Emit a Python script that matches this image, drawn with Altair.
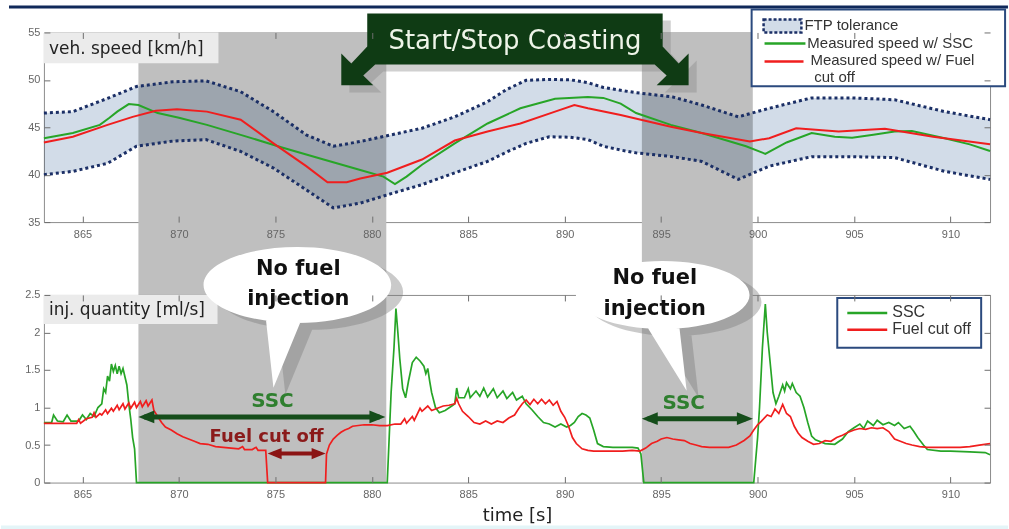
import altair as alt
import pandas as pd

# ---------------- values ----------------
time_ticks = [865, 870, 875, 880, 885, 890, 895, 900, 905, 910]
speed_ticks = [35, 40, 45, 50, 55]
inj_ticks = [0, 0.5, 1, 1.5, 2, 2.5]

# start/stop coasting windows [s]
coast_start = [867.9, 894.0]
coast_end = [880.75, 899.75]

# FTP tolerance band [km/h]
band_t = [863.0, 864.5, 866.3, 867.8, 869.7, 871.4, 873.2, 874.9, 876.6, 878.0,
          879.4, 881.0, 882.6, 884.3, 886.0, 887.0, 888.0, 889.2, 890.3, 891.2,
          892.0, 892.9, 893.7, 895.6, 897.1, 899.0, 900.6, 902.8, 904.9, 907.1,
          909.7, 912.05]
band_lo = [40.0, 40.35, 41.2, 43.0, 43.55, 43.7, 42.45, 40.7, 38.4, 36.5,
           37.0, 38.0, 38.95, 40.2, 41.4, 42.4, 43.3, 44.0, 43.95, 43.7,
           43.0, 42.6, 42.3, 41.9, 41.4, 39.5, 40.9, 41.9, 41.9, 41.8,
           40.35, 39.5]
band_hi = [46.5, 46.65, 48.05, 49.3, 49.8, 49.9, 48.75, 46.65, 44.2, 43.0,
           43.5, 44.2, 44.9, 46.1, 47.7, 49.0, 49.95, 50.05, 50.0, 49.7,
           49.2, 48.9, 48.65, 48.2, 47.35, 46.1, 47.0, 48.1, 48.1, 47.9,
           46.65, 45.8]

# measured speed w/ SSC
speed_ssc_t = [863.0, 864.5, 865.9, 866.4, 866.8, 867.4, 867.9, 868.9, 870.0, 871.45,
               873.2, 875.3, 877.5, 879.4, 880.6, 881.2, 881.8, 882.6, 884.3, 886.0,
               887.7, 889.5, 891.2, 892.0, 892.9, 893.7, 895.5, 897.1, 899.4, 900.4,
               901.5, 902.8, 904.0, 904.9, 906.0, 907.1, 908.0, 909.7, 911.0, 912.05]
speed_ssc_v = [43.85, 44.4, 45.25, 46.0, 46.65, 47.45, 47.35, 46.5, 46.0, 45.25,
               44.2, 42.9, 41.6, 40.5, 39.8, 39.0, 39.8, 41.05, 43.3, 45.4,
               47.0, 48.0, 48.2, 48.1, 47.5, 46.5, 45.25, 44.4, 43.0, 42.2,
               43.4, 44.4, 44.0, 43.9, 44.2, 44.55, 44.6, 43.85, 43.2, 42.5]

# measured speed w/ fuel cut off
speed_fco_t = [863.0, 864.5, 866.3, 867.6, 868.8, 869.9, 871.45, 873.2, 874.9, 876.6,
               877.7, 878.7, 879.4, 880.8, 882.6, 884.3, 886.0, 887.7, 889.5, 890.5,
               891.2, 892.9, 895.5, 897.1, 899.6, 900.6, 902.0, 904.2, 906.6, 909.1,
               912.05]
speed_fco_v = [43.4, 44.0, 45.25, 46.1, 46.75, 46.9, 46.65, 45.8, 43.3, 40.9,
               39.2, 39.2, 39.6, 40.2, 41.6, 43.6, 44.55, 45.4, 46.65, 47.35,
               47.0, 46.3, 45.05, 44.4, 43.5, 43.85, 44.9, 44.55, 44.85, 44.0,
               43.2]

# injection quantity [ml/s], SSC
inj_ssc = [(863.0, 0.80), (863.4, 0.80), (863.5, 0.90), (863.7, 0.82), (864.0, 0.81),
           (864.2, 0.90), (864.4, 0.82), (864.8, 0.82), (865.0, 0.90), (865.2, 0.84),
           (865.4, 0.92), (865.6, 0.88), (865.8, 1.00), (866.0, 1.05), (866.1, 1.25),
           (866.2, 1.20), (866.3, 1.42), (866.4, 1.35), (866.5, 1.58), (866.6, 1.48),
           (866.7, 1.56), (866.8, 1.45), (866.9, 1.55), (867.0, 1.45), (867.1, 1.52),
           (867.3, 1.30), (867.4, 1.05), (867.5, 0.85), (867.6, 0.60), (867.7, 0.45),
           (867.8, 0.0), (880.8, 0.0), (881.0, 1.2), (881.15, 1.8), (881.25, 2.32),
           (881.35, 2.0), (881.45, 1.65), (881.6, 1.25), (881.75, 1.13), (881.9, 1.35),
           (882.1, 1.6), (882.3, 1.67), (882.5, 1.62), (882.7, 1.55), (882.8, 1.45),
           (882.9, 1.52), (883.0, 1.35), (883.1, 1.20), (883.3, 1.00), (883.5, 0.93),
           (883.8, 0.96), (884.2, 1.03), (884.3, 1.05), (884.4, 1.26), (884.5, 1.13),
           (884.8, 1.13), (885.0, 1.25), (885.1, 1.13), (885.4, 1.22), (885.6, 1.15),
           (885.8, 1.26), (886.0, 1.14), (886.3, 1.25), (886.5, 1.13), (886.8, 1.22),
           (887.0, 1.12), (887.3, 1.20), (887.5, 1.10), (887.8, 1.15), (888.0, 1.05),
           (888.3, 0.97), (888.6, 0.88), (888.9, 0.80), (889.2, 0.78), (889.5, 0.74),
           (889.8, 0.78), (890.1, 0.74), (890.3, 0.76), (890.5, 0.80), (890.7, 0.88),
           (890.9, 0.92), (891.1, 0.90), (891.3, 0.86), (891.5, 0.70), (891.7, 0.52),
           (892.0, 0.48), (892.5, 0.47), (893.0, 0.47), (893.5, 0.47), (893.8, 0.46),
           (893.95, 0.38), (894.1, 0.0), (899.8, 0.0), (900.0, 0.6), (900.1, 1.0),
           (900.25, 1.8), (900.4, 2.38), (900.5, 2.0), (900.65, 1.6), (900.8, 1.2),
           (900.95, 1.05), (901.1, 1.15), (901.3, 1.30), (901.4, 1.22), (901.5, 1.33),
           (901.7, 1.25), (901.8, 1.32), (902.0, 1.20), (902.2, 1.15), (902.4, 1.00),
           (902.6, 0.80), (902.8, 0.62), (903.0, 0.57), (903.5, 0.52), (904.0, 0.51),
           (904.4, 0.58), (904.7, 0.68), (905.0, 0.73), (905.3, 0.78), (905.5, 0.72),
           (905.7, 0.82), (906.0, 0.76), (906.2, 0.83), (906.5, 0.77), (906.8, 0.80),
           (907.1, 0.76), (907.3, 0.80), (907.6, 0.72), (907.9, 0.75), (908.1, 0.68),
           (908.3, 0.60), (908.6, 0.50), (908.8, 0.44), (909.5, 0.42), (910.0, 0.42),
           (911.0, 0.41), (911.8, 0.40), (912.05, 0.37)]

# injection quantity [ml/s], fuel cut off
inj_fco = [(863.0, 0.79), (864.7, 0.79), (864.8, 0.84), (864.9, 0.79), (865.2, 0.85),
           (865.5, 0.87), (865.6, 0.93), (865.7, 0.87), (865.9, 0.92), (866.0, 0.90),
           (866.2, 0.97), (866.3, 0.92), (866.5, 0.99), (866.6, 0.95), (866.8, 1.03),
           (866.9, 0.97), (867.1, 1.05), (867.2, 0.98), (867.4, 1.06), (867.5, 0.99),
           (867.7, 1.07), (867.8, 1.00), (868.0, 1.08), (868.1, 1.01), (868.3, 1.09),
           (868.4, 1.02), (868.6, 1.10), (868.7, 0.96), (868.9, 0.88), (869.1, 0.80),
           (869.3, 0.74), (869.6, 0.70), (869.9, 0.65), (870.2, 0.61), (870.5, 0.58),
           (870.8, 0.55), (871.1, 0.52), (871.5, 0.51), (871.9, 0.48), (872.3, 0.47),
           (872.7, 0.46), (873.1, 0.45), (873.3, 0.48), (873.4, 0.44), (873.8, 0.44),
           (874.0, 0.47), (874.1, 0.43), (874.5, 0.43), (874.6, 0.0), (877.6, 0.0),
           (877.65, 0.38), (877.8, 0.50), (878.0, 0.58), (878.2, 0.63), (878.4, 0.67),
           (878.6, 0.70), (878.8, 0.72), (879.0, 0.75), (879.3, 0.76), (879.6, 0.77),
           (880.0, 0.77), (880.4, 0.76), (880.8, 0.76), (881.2, 0.78), (881.5, 0.78),
           (881.7, 0.85), (881.8, 0.79), (882.1, 0.88), (882.2, 0.83), (882.5, 0.99),
           (882.6, 0.95), (882.9, 1.02), (883.1, 0.96), (883.4, 0.99), (883.7, 1.02),
           (884.0, 1.03), (884.3, 1.05), (884.4, 1.12), (884.5, 1.05), (884.7, 0.95),
           (885.0, 0.88), (885.3, 0.80), (885.6, 0.78), (885.9, 0.82), (886.2, 0.78),
           (886.5, 0.82), (886.8, 0.80), (887.1, 0.86), (887.4, 0.90), (887.6, 0.98),
           (887.8, 1.05), (888.0, 1.10), (888.2, 1.04), (888.4, 1.11), (888.6, 1.05),
           (888.8, 1.11), (889.0, 1.05), (889.2, 1.10), (889.4, 1.03), (889.6, 1.08),
           (889.8, 0.95), (890.0, 0.87), (890.2, 0.75), (890.4, 0.60), (890.6, 0.52),
           (890.9, 0.45), (891.2, 0.43), (891.5, 0.42), (892.0, 0.42), (892.5, 0.42),
           (893.0, 0.42), (893.5, 0.43), (893.9, 0.42), (894.2, 0.46), (894.5, 0.52),
           (894.8, 0.55), (895.0, 0.58), (895.3, 0.60), (895.6, 0.58), (895.9, 0.57),
           (896.2, 0.56), (896.5, 0.52), (896.8, 0.50), (897.1, 0.48), (897.5, 0.47),
           (898.0, 0.47), (898.5, 0.47), (898.9, 0.50), (899.3, 0.56), (899.6, 0.62),
           (899.8, 0.70), (900.0, 0.77), (900.2, 0.82), (900.5, 0.90), (900.7, 0.88),
           (900.9, 0.98), (901.1, 0.92), (901.3, 1.04), (901.5, 0.92), (901.7, 0.88),
           (901.9, 0.75), (902.1, 0.66), (902.3, 0.60), (902.6, 0.55), (902.9, 0.51),
           (903.2, 0.52), (903.5, 0.56), (903.8, 0.55), (904.1, 0.60), (904.4, 0.63),
           (904.7, 0.67), (905.0, 0.70), (905.3, 0.72), (905.6, 0.71), (905.9, 0.73),
           (906.2, 0.72), (906.5, 0.73), (906.8, 0.68), (907.1, 0.58), (907.4, 0.55),
           (907.7, 0.52), (908.0, 0.50), (908.4, 0.48), (908.8, 0.47), (909.2, 0.47),
           (909.6, 0.47), (910.0, 0.47), (910.5, 0.47), (911.0, 0.48), (911.5, 0.50),
           (912.05, 0.52)]

# ---------------- scales / axes ----------------
X_SCALE = alt.Scale(domain=[863, 912.05], nice=False, zero=False)
SPD_SCALE = alt.Scale(domain=[35, 55], nice=False, zero=False)
INJ_SCALE = alt.Scale(domain=[0, 2.5], nice=False, zero=False)


def axis(orient, values, labels=True, **kw):
    style = dict(labelFont="Liberation Sans", labelFontSize=11, labelColor="#666666",
                 tickColor="#6e6e6e", tickWidth=1, tickSize=6, offset=-6,
                 domain=False, grid=False, zindex=1, title=None, format="~g")
    style.update(kw)
    return alt.Axis(orient=orient, values=values, labels=labels, **style)


def X(field, ax=None):
    return alt.X(field, type="quantitative", scale=X_SCALE, axis=ax)


def Y(field, scale, ax=None):
    return alt.Y(field, type="quantitative", scale=scale, axis=ax)


def text_layer(df, scale, **mk):
    return alt.Chart(df).mark_text(**mk).encode(x=X("t"), y=Y("v", scale), text="label:N")


def rule_layer(df, scale, **mk):
    return alt.Chart(df).mark_rule(**mk).encode(x=X("t0"), x2="t1", y=Y("v", scale))


def rect_layer(df, scale, **mk):
    return alt.Chart(df).mark_rect(clip=False, **mk).encode(x=X("t0"), x2="t1", y=Y("v0", scale), y2="v1")


def shape_layer(df, scale, **mk):
    return alt.Chart(df).mark_point(filled=True, strokeWidth=0, **mk).encode(x=X("t"), y=Y("v", scale))


ARROW_R = "M-1,-0.8 L1,0 L-1,0.8 Z"
ARROW_L = "M1,-0.8 L-1,0 L1,0.8 Z"
BANNER = ("M-0.8457,-0.2057 L0.8457,-0.2057 L0.8457,-0.0171 L0.9371,0.08 L0.9943,0.0229 "
          "L0.9943,0.2057 L0.8114,0.2057 L0.8686,0.1486 L0.8,0.0857 L-0.8,0.0857 "
          "L-0.8686,0.1486 L-0.8114,0.2057 L-0.9943,0.2057 L-0.9943,0.0229 L-0.9371,0.08 "
          "L-0.8457,-0.0171 Z")
BUBBLE1 = ("M-0.94,0 C-0.94,-0.21 -0.519,-0.38 0,-0.38 C0.519,-0.38 0.94,-0.21 0.94,0 "
           "C0.94,0.21 0.519,0.38 0,0.38 C-0.519,0.38 -0.94,0.21 -0.94,0 Z "
           "M-0.32,0.30 L0.06,0.30 L-0.24,1.03 Z")
BUBBLE2 = ("M-0.87,0 C-0.87,-0.188 -0.48,-0.34 0,-0.34 C0.48,-0.34 0.87,-0.188 0.87,0 "
           "C0.87,0.188 0.48,0.34 0,0.34 C-0.48,0.34 -0.87,0.188 -0.87,0 Z "
           "M-0.18,0.28 L0.16,0.26 L0.24,0.96 Z")

GREEN = "#27a527"
RED = "#f01e1e"
NAVY = "#1b2f66"

# ---------------- top panel: vehicle speed ----------------
shade_top = pd.DataFrame({"t0": coast_start, "t1": coast_end, "v0": [55, 55], "v1": [27.32, 27.32]})
band_df = pd.DataFrame({"t": band_t, "lo": band_lo, "hi": band_hi})
ssc_spd = pd.DataFrame({"t": speed_ssc_t, "v": speed_ssc_v})
fco_spd = pd.DataFrame({"t": speed_fco_t, "v": speed_fco_v})

top_layers = [
    alt.Chart(shade_top).mark_rect(color="#bfbfbf", clip=False).encode(
        x=X("t0", axis("bottom", time_ticks, labelPadding=6)), x2="t1",
        y=Y("v0", SPD_SCALE, axis("left", speed_ticks, labelPadding=4)), y2="v1"),
    alt.Chart(band_df).mark_area(color="#d2dce8", blend="multiply", opacity=1).encode(
        x=X("t", axis("top", time_ticks, labels=False)),
        y=Y("lo", SPD_SCALE, axis("right", speed_ticks, labels=False)), y2="hi"),
    alt.Chart(band_df).mark_line(color=NAVY, strokeWidth=3, strokeDash=[3, 3]).encode(
        x=X("t"), y=Y("lo", SPD_SCALE)),
    alt.Chart(band_df).mark_line(color=NAVY, strokeWidth=3, strokeDash=[3, 3]).encode(
        x=X("t"), y=Y("hi", SPD_SCALE)),
    alt.Chart(ssc_spd).mark_line(color=GREEN, strokeWidth=2).encode(x=X("t"), y=Y("v", SPD_SCALE)),
    alt.Chart(fco_spd).mark_line(color=RED, strokeWidth=2).encode(x=X("t"), y=Y("v", SPD_SCALE)),
    # panel label
    rect_layer(pd.DataFrame({"t0": [863.0], "t1": [872.05], "v0": [55.0], "v1": [51.74]}),
               SPD_SCALE, color="#ebebeb"),
    text_layer(pd.DataFrame({"t": [863.26], "v": [53.3], "label": ["veh. speed [km/h]"]}),
               SPD_SCALE, align="left", baseline="middle", font="DejaVu Sans", fontSize=17,
               color="#222222"),
    # header bar
    rect_layer(pd.DataFrame({"t0": [861.19], "t1": [912.98], "v0": [57.842], "v1": [57.526]}),
               SPD_SCALE, color="#10295a"),
    # banner
    shape_layer(pd.DataFrame({"t": [887.84], "v": [52.47]}), SPD_SCALE, shape=BANNER,
                size=122500, color="#8a8a8a", opacity=0.4),
    shape_layer(pd.DataFrame({"t": [887.42], "v": [53.21]}), SPD_SCALE, shape=BANNER,
                size=122500, color="#0f3b14", opacity=1),
    text_layer(pd.DataFrame({"t": [887.42], "v": [54.05], "label": ["Start/Stop Coasting"]}),
               SPD_SCALE, align="center", baseline="middle", font="DejaVu Sans", fontSize=26,
               color="#eef4e8"),
    # legend
    rect_layer(pd.DataFrame({"t0": [899.69], "t1": [912.83], "v0": [57.42], "v1": [49.32]}),
               SPD_SCALE, fill="white", stroke="#2b4a7e", strokeWidth=2),
    rect_layer(pd.DataFrame({"t0": [900.31], "t1": [902.27], "v0": [56.37], "v1": [55.0]}),
               SPD_SCALE, fill="#d2dce8", stroke=NAVY, strokeWidth=2.5, strokeDash=[3, 2]),
    rule_layer(pd.DataFrame({"t0": [900.36], "t1": [902.48], "v": [53.84]}), SPD_SCALE,
               color=GREEN, strokeWidth=2.5),
    rule_layer(pd.DataFrame({"t0": [900.36], "t1": [902.38], "v": [51.95]}), SPD_SCALE,
               color=RED, strokeWidth=2.5),
    text_layer(pd.DataFrame({"t": [902.43, 902.58, 902.74, 902.94],
                             "v": [55.74, 53.9, 52.06, 50.33],
                             "label": ["FTP tolerance", "Measured speed w/ SSC",
                                       "Measured speed w/ Fuel", "cut off"]}),
               SPD_SCALE, align="left", baseline="middle", font="Liberation Sans", fontSize=15,
               color="#333333"),
]

top = alt.layer(*top_layers).resolve_axis(x="independent", y="independent").properties(
    width=948, height=190)

# ---------------- bottom panel: injection quantity ----------------
shade_bot = pd.DataFrame({"t0": coast_start, "t1": coast_end, "v0": [2.5, 2.5], "v1": [0, 0]})
ssc_inj = pd.DataFrame(inj_ssc, columns=["t", "v"])
fco_inj = pd.DataFrame(inj_fco, columns=["t", "v"])

bot_layers = [
    alt.Chart(shade_bot).mark_rect(color="#bfbfbf").encode(
        x=X("t0", axis("bottom", time_ticks, labelPadding=6, title="time [s]",
                       titleFont="DejaVu Sans", titleFontSize=18, titleFontWeight="normal",
                       titleColor="#222222", titlePadding=7)),
        x2="t1",
        y=Y("v0", INJ_SCALE, axis("left", inj_ticks, labelPadding=4)), y2="v1"),
    alt.Chart(ssc_inj).mark_line(color=GREEN, strokeWidth=1.7).encode(
        x=X("t", axis("top", time_ticks, labels=False)),
        y=Y("v", INJ_SCALE, axis("right", inj_ticks, labels=False))),
    alt.Chart(fco_inj).mark_line(color=RED, strokeWidth=1.7).encode(x=X("t"), y=Y("v", INJ_SCALE)),
    # panel label
    rect_layer(pd.DataFrame({"t0": [863.0], "t1": [872.0], "v0": [2.5], "v1": [2.114]}),
               INJ_SCALE, color="#ebebeb"),
    text_layer(pd.DataFrame({"t": [863.26], "v": [2.30], "label": ["inj. quantity [ml/s]"]}),
               INJ_SCALE, align="left", baseline="middle", font="DejaVu Sans", fontSize=17,
               color="#222222"),
    # legend
    rect_layer(pd.DataFrame({"t0": [904.13], "t1": [911.59], "v0": [2.46], "v1": [1.795]}),
               INJ_SCALE, fill="white", stroke="#2b4a7e", strokeWidth=2),
    rule_layer(pd.DataFrame({"t0": [904.65], "t1": [906.72], "v": [2.26]}), INJ_SCALE,
               color=GREEN, strokeWidth=2.5),
    rule_layer(pd.DataFrame({"t0": [904.65], "t1": [906.72], "v": [2.035]}), INJ_SCALE,
               color=RED, strokeWidth=2.5),
    text_layer(pd.DataFrame({"t": [906.98, 906.98], "v": [2.27, 2.045],
                             "label": ["SSC", "Fuel cut off"]}),
               INJ_SCALE, align="left", baseline="middle", font="Liberation Sans", fontSize=16,
               color="#333333"),
    # SSC arrows
    rule_layer(pd.DataFrame({"t0": [868.2, 894.3], "t1": [880.4, 899.4], "v": [0.875, 0.851]}),
               INJ_SCALE, color="#154d1a", strokeWidth=5),
    shape_layer(pd.DataFrame({"t": [868.31, 894.41], "v": [0.875, 0.851]}), INJ_SCALE,
                shape=ARROW_L, size=256, color="#154d1a", opacity=1),
    shape_layer(pd.DataFrame({"t": [880.29, 899.34], "v": [0.875, 0.851]}), INJ_SCALE,
                shape=ARROW_R, size=256, color="#154d1a", opacity=1),
    text_layer(pd.DataFrame({"t": [874.85, 896.17], "v": [1.09, 1.064], "label": ["SSC", "SSC"]}),
               INJ_SCALE, align="center", baseline="middle", font="DejaVu Sans", fontSize=20,
               fontWeight="bold", color="#2f7f2f"),
    # fuel cut off arrow
    rule_layer(pd.DataFrame({"t0": [874.9], "t1": [877.3], "v": [0.386]}), INJ_SCALE,
               color="#8b1414", strokeWidth=4),
    shape_layer(pd.DataFrame({"t": [874.96], "v": [0.386]}), INJ_SCALE, shape=ARROW_L,
                size=196, color="#8b1414", opacity=1),
    shape_layer(pd.DataFrame({"t": [877.24], "v": [0.386]}), INJ_SCALE, shape=ARROW_R,
                size=196, color="#8b1414", opacity=1),
    text_layer(pd.DataFrame({"t": [874.54], "v": [0.612], "label": ["Fuel cut off"]}),
               INJ_SCALE, align="center", baseline="middle", font="DejaVu Sans", fontSize=18,
               fontWeight="bold", color="#8b1a1a"),
    # callout bubbles
    shape_layer(pd.DataFrame({"t": [876.76], "v": [2.54]}), INJ_SCALE, shape=BUBBLE1,
                size=40000, color="#7a7a7a", opacity=0.4),
    shape_layer(pd.DataFrame({"t": [895.70], "v": [2.407]}), INJ_SCALE, shape=BUBBLE2,
                size=40000, color="#7a7a7a", opacity=0.4),
    shape_layer(pd.DataFrame({"t": [876.14], "v": [2.633]}), INJ_SCALE, shape=BUBBLE1,
                size=40000, color="white", opacity=1),
    shape_layer(pd.DataFrame({"t": [895.08], "v": [2.5]}), INJ_SCALE, shape=BUBBLE2,
                size=40000, color="white", opacity=1),
    text_layer(pd.DataFrame({"t": [876.19, 876.19, 894.67, 894.67],
                             "v": [2.846, 2.447, 2.726, 2.314],
                             "label": ["No fuel", "injection", "No fuel", "injection"]}),
               INJ_SCALE, align="center", baseline="middle", font="DejaVu Sans", fontSize=21,
               fontWeight="bold", color="#111111"),
    # bottom strip
    rect_layer(pd.DataFrame({"t0": [860.775], "t1": [912.98], "v0": [-0.572], "v1": [-0.625]}),
               INJ_SCALE, color="#e4f5f8"),
]

bottom = alt.layer(*bot_layers).resolve_axis(x="independent", y="independent").properties(
    width=948, height=188)

chart = alt.vconcat(top, bottom, spacing=73, bounds="flush").properties(
    padding={"left": 0, "top": 4, "right": 0, "bottom": 0}, background="white"
).configure_view(stroke="#8c8c8c", strokeWidth=1)

chart.save("out.html", embed_options={"renderer": "svg", "actions": False})
